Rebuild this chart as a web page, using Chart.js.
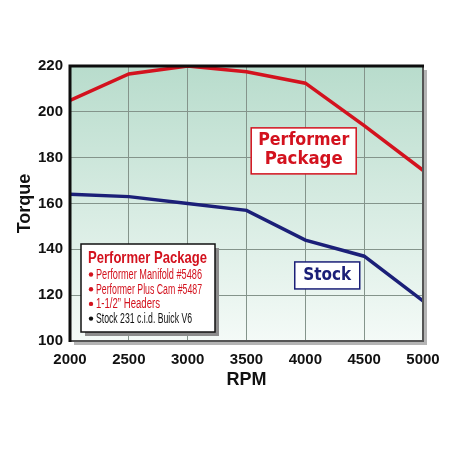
<!DOCTYPE html>
<html>
<head>
<meta charset="utf-8">
<script src="https://cdn.jsdelivr.net/npm/chart.js@4/dist/chart.umd.min.js"></script>
<style>
  body { margin: 0; background: #fff; }
  #wrap { width: 450px; height: 450px; }
</style>
</head>
<body>
<div id="wrap"><canvas id="graphi" width="450" height="450"></canvas></div>
<script>
// datos
const rpm = [2000, 2500, 3000, 3500, 4000, 4500, 5000];
const performerTorque = [205, 216.5, 220, 217.5, 212.5, 194, 174.5];
const stockTorque = [164, 163, 160, 157, 144, 137, 117.5];
const yTicks = [100, 120, 140, 160, 180, 200, 220];
const legendTitle = "Performer Package";
const legendItems = ["Performer Manifold #5486", "Performer Plus Cam #5487", "1-1/2\u201D Headers", "Stock 231 c.i.d. Buick V6"];

const RED = "#d3121e";
const NAVY = "#1b1f78";
const FONT = "'Liberation Sans', Arial, sans-serif";

// fondo degradado y borde del area
const plotBg = {
    id: "plotBg",
    beforeDraw(chart) {
        const {ctx, chartArea: a} = chart;
        ctx.save();
        // sombra gris
        ctx.fillStyle = "#b4b4b4";
        ctx.fillRect(a.left + 4, a.top + 4, a.right - a.left, a.bottom - a.top);
        const g = ctx.createLinearGradient(0, a.top, 0, a.bottom);
        g.addColorStop(0, "#b8dccc");
        g.addColorStop(1, "#f4faf7");
        ctx.fillStyle = g;
        ctx.fillRect(a.left, a.top, a.right - a.left, a.bottom - a.top);
        ctx.restore();
    },
    afterDatasetsDraw(chart) {
        const {ctx, chartArea: a} = chart;
        ctx.save();
        // derecha y abajo en gris oscuro
        ctx.strokeStyle = "#555";
        ctx.lineWidth = 2;
        ctx.beginPath();
        ctx.moveTo(a.right, a.top);
        ctx.lineTo(a.right, a.bottom);
        ctx.lineTo(a.left, a.bottom);
        ctx.stroke();
        // izquierda y arriba en negro
        ctx.strokeStyle = "#0d0d0d";
        ctx.lineWidth = 3;
        ctx.beginPath();
        ctx.moveTo(a.left, a.bottom + 1);
        ctx.lineTo(a.left, a.top);
        ctx.lineTo(a.right + 1, a.top);
        ctx.stroke();
        ctx.restore();
    }
};

// etiquetas y cuadro de leyenda
const notes = {
    id: "notes",
    afterDraw(chart) {
        const ctx = chart.ctx;
        const x = chart.scales.x, y = chart.scales.y;
        ctx.save();

        // "Performer Package"
        let bx = x.getPixelForValue(3540), by = y.getPixelForValue(193);
        ctx.fillStyle = "#fff";
        ctx.fillRect(bx, by, 105, 46);
        ctx.strokeStyle = RED; ctx.lineWidth = 1.5;
        ctx.strokeRect(bx, by, 105, 46);
        ctx.fillStyle = RED;
        ctx.font = "bold 17px 'DejaVu Sans'";
        ctx.textAlign = "center"; ctx.textBaseline = "middle";
        ctx.fillText("Performer", bx + 52.5, by + 13, 91);
        ctx.fillText("Package", bx + 52.5, by + 32, 78);

        // "Stock"
        bx = x.getPixelForValue(3910); by = y.getPixelForValue(134.5);
        ctx.fillStyle = "#fff";
        ctx.fillRect(bx, by, 65, 27);
        ctx.strokeStyle = NAVY; ctx.lineWidth = 1.5;
        ctx.strokeRect(bx, by, 65, 27);
        ctx.fillStyle = NAVY;
        ctx.font = "bold 17px 'DejaVu Sans'";
        ctx.fillText("Stock", bx + 32.5, by + 14, 48);

        // cuadro de leyenda
        bx = 81; by = 244;
        const w = 134, h = 88;
        ctx.fillStyle = "#8c8c8c";
        ctx.fillRect(bx + 4, by + 4, w, h);
        ctx.fillStyle = "#fff";
        ctx.fillRect(bx, by, w, h);
        ctx.strokeStyle = "#111"; ctx.lineWidth = 1.5;
        ctx.strokeRect(bx, by, w, h);
        ctx.textAlign = "left"; ctx.textBaseline = "alphabetic";
        ctx.fillStyle = RED;
        ctx.font = "bold 17px " + FONT;
        ctx.fillText(legendTitle, bx + 7, by + 19, 119);
        ctx.font = "14px " + FONT;
        const widths = [106, 106, 64, 96];
        legendItems.forEach((t, i) => {
            const ty = by + 35 + i * 14.7;
            ctx.fillStyle = i < 3 ? RED : "#111";
            ctx.beginPath();
            ctx.arc(bx + 10, ty - 4.5, 2.2, 0, Math.PI * 2);
            ctx.fill();
            ctx.fillText(t, bx + 15, ty, widths[i]);
        });
        ctx.restore();
    }
};

const rendeChart = () => {
    const data = {
        datasets: [
            {
                label: "Performer Package",
                data: rpm.map((r, i) => ({x: r, y: performerTorque[i]})),
                borderColor: RED,
                borderWidth: 3.5,
                pointRadius: 0,
                tension: 0
            },
            {
                label: "Stock",
                data: rpm.map((r, i) => ({x: r, y: stockTorque[i]})),
                borderColor: NAVY,
                borderWidth: 3.5,
                pointRadius: 0,
                tension: 0
            }
        ]
    };

    const tickFont = {family: FONT, size: 15, weight: "bold"};
    const titleFont = {family: FONT, size: 18, weight: "bold"};

    const options = {
        responsive: false,
        animation: false,
        layout: {padding: {top: 66, right: 27, bottom: 0, left: 0}},
        plugins: {
            legend: {display: false},
            tooltip: {enabled: false}
        },
        scales: {
            x: {
                type: "linear",
                min: 2000, max: 5000,
                afterBuildTicks: (s) => { s.ticks = rpm.map(v => ({value: v})); },
                afterFit: (s) => { s.height = 109; },
                grid: {color: "#84948b", lineWidth: 1, drawTicks: false},
                border: {display: false},
                ticks: {color: "#111", font: tickFont, padding: 10, maxRotation: 0,
                        callback: (v) => String(v)},
                title: {display: true, text: "RPM", color: "#111", font: titleFont,
                        padding: {top: 0, bottom: 59}}
            },
            y: {
                min: 100, max: 220,
                afterBuildTicks: (s) => { s.ticks = yTicks.map(v => ({value: v})); },
                afterFit: (s) => { s.width = 70; },
                grid: {color: "#84948b", lineWidth: 1, drawTicks: false},
                border: {display: false},
                ticks: {color: "#111", font: tickFont, padding: 7,
                        callback: (v) => String(v)},
                title: {display: true, text: "Torque", color: "#111", font: titleFont,
                        padding: {top: 14, bottom: 0}}
            }
        }
    };

    new Chart("graphi", {type: "line", data, options, plugins: [plotBg, notes]});
};

rendeChart();
</script>
</body>
</html>
